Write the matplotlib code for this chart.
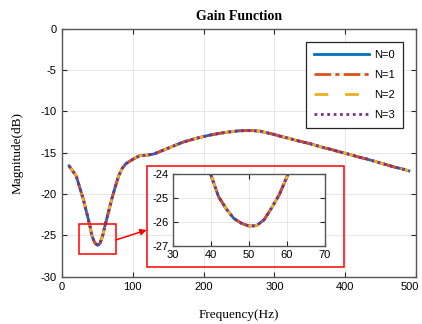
import matplotlib
matplotlib.use("Agg")
import matplotlib.pyplot as plt
import matplotlib.transforms as mtransforms
from matplotlib.patches import Rectangle

plt.rcParams["axes.unicode_minus"] = False

freq = [10, 20, 30, 35, 40, 42, 44, 46, 48, 50, 52, 54, 56, 58, 60, 65, 70, 75, 80,
        85, 90, 100, 110, 120, 130, 140, 150, 160, 170, 180, 190, 200, 210, 220,
        230, 240, 250, 260, 270, 280, 290, 300, 310, 320, 330, 340, 350, 360, 370,
        380, 390, 400, 410, 420, 430, 440, 450, 460, 470, 480, 490]
gain = [-16.6, -17.8, -20.6, -22.3, -24.05, -24.95, -25.45, -25.85, -26.05, -26.17,
        -26.15, -25.9, -25.4, -24.85, -24.1, -22.4, -20.7, -19.2, -17.8,
        -16.9, -16.35, -15.8, -15.35, -15.3, -15.15, -14.8, -14.45, -14.1, -13.75,
        -13.5, -13.25, -13.05, -12.85, -12.7, -12.55, -12.45, -12.35, -12.33,
        -12.33, -12.4, -12.6, -12.8, -13.05, -13.25, -13.5, -13.7, -13.9, -14.15,
        -14.4, -14.6, -14.85, -15.07, -15.3, -15.55, -15.75, -16.0, -16.25, -16.5,
        -16.75, -16.95, -17.2]
series_labels = ["N=0", "N=1", "N=2", "N=3"]
colors = ["#0072BD", "#D95319", "#EDB120", "#7E2F8E"]
dash_styles = [None, (6, 1.5, 1.5, 1.5), (5, 6), (1, 1.3)]

x_ticks = [0, 100, 200, 300, 400, 500]
y_ticks = [-30, -25, -20, -15, -10, -5, 0]
inset_x_ticks = [30, 40, 50, 60, 70]
inset_y_ticks = [-27, -26, -25, -24]

tick_font = "Liberation Sans"
serif = "Liberation Serif"

fig = plt.figure(figsize=(4.22, 3.24), dpi=100)
ax = fig.add_axes([0.1469, 0.146, 0.8389, 0.7654])

def style_axes(a, xt, yt, xl, yl):
    a.set_xlim(*xl)
    a.set_ylim(*yl)
    a.set_xticks(xt)
    a.set_yticks(yt)
    a.grid(True, color="#e3e3e3", linewidth=0.6)
    a.set_axisbelow(True)
    a.tick_params(direction="in", top=True, right=True, length=3.5,
                  width=0.8, colors="#262626", labelsize=8, pad=4)
    for lbl in a.get_xticklabels() + a.get_yticklabels():
        lbl.set_fontfamily(tick_font)
        lbl.set_color("black")
    for s in a.spines.values():
        s.set_color("#555555")
        s.set_linewidth(1.0)

def draw_lines(a):
    handles = []
    for lab, c, d in zip(series_labels, colors, dash_styles):
        if d is None:
            h, = a.plot(freq, gain, color=c, lw=2.0, label=lab)
        else:
            h, = a.plot(freq, gain, color=c, lw=2.0, label=lab, dashes=d)
        handles.append(h)
    return handles

handles = draw_lines(ax)
style_axes(ax, x_ticks, y_ticks, (0, 500), (-30, 0))
# keep the last x tick label inside the figure, as in the reference
last = ax.get_xticklabels()[-1]
last.set_transform(last.get_transform() +
                   mtransforms.ScaledTranslation(-6 / 100, 0, fig.dpi_scale_trans))

ax.set_title("Gain Function", fontfamily=serif, fontweight="bold", fontsize=10, pad=6)
ax.set_xlabel("Frequency(Hz)", fontfamily=serif, fontsize=9.5, labelpad=12)
ax.set_ylabel("Magnitude(dB)", fontfamily=serif, fontsize=9.5, labelpad=12)

leg = ax.legend(handles=handles, loc="upper right", bbox_to_anchor=(0.963, 0.946),
                borderaxespad=0,
                prop={"family": tick_font, "size": 8}, handlelength=5.0,
                labelspacing=0.9, fancybox=False, framealpha=1,
                borderpad=0.7, handletextpad=0.45)
leg.get_frame().set_edgecolor("#262626")
leg.get_frame().set_linewidth(0.9)

# small zoom rectangle in data coords
ax.add_patch(Rectangle((24, -27.2), 52, 3.6, fill=False, edgecolor="red", lw=1.1, zorder=5))
# big red frame in figure coords
fig.patches.append(Rectangle((0.349, 0.1769), 0.4661, 0.3117, fill=False,
                             edgecolor="red", lw=1.1, transform=fig.transFigure, zorder=5))
ax.annotate("", xy=(0.3476, 0.2901), xycoords="figure fraction",
            xytext=(76.3, -25.55), textcoords="data",
            arrowprops=dict(arrowstyle="-|>", color="red", lw=1.1,
                            mutation_scale=9, shrinkA=0, shrinkB=0))

ins = fig.add_axes([0.41, 0.2407, 0.3602, 0.2222])
draw_lines(ins)
style_axes(ins, inset_x_ticks, inset_y_ticks, (30, 70), (-27, -24))
ins.tick_params(pad=3)

fig.savefig("out.png", dpi=100)
